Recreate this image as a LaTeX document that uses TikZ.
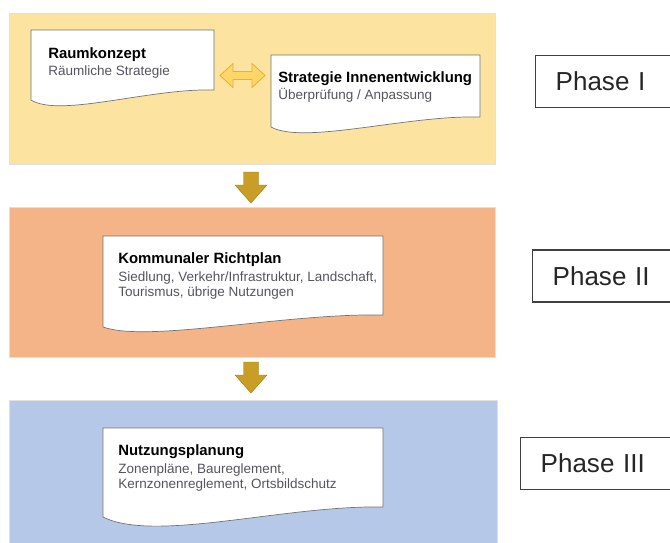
\documentclass[tikz,border=0pt]{standalone}
\usepackage{fontspec}
\setmainfont{Liberation Sans}

\definecolor{bandyellow}{RGB}{252,228,160}
\definecolor{bandorange}{RGB}{245,180,135}
\definecolor{bandblue}{RGB}{182,200,232}
\definecolor{arrowgold}{RGB}{200,158,38}
\definecolor{swapyellow}{RGB}{253,214,102}
\definecolor{swapedge}{RGB}{228,178,60}
\definecolor{subgray}{RGB}{85,85,95}

\newcommand{\doctitle}[1]{{\fontsize{10.6}{12}\selectfont\bfseries\color{black}#1}}

\tikzset{
  band/.style={fill=#1, draw=black!12, line width=0.4pt},
  docpage/.style={fill=white, draw=black!55, line width=0.5pt},
  doctext/.style={anchor=north west, inner sep=0pt, align=left,
    font=\fontsize{9.6}{10.7}\selectfont, text=subgray},
  phasebox/.style={draw=black!75, line width=1pt, anchor=west, text width=3cm,
    inner xsep=0.5cm, minimum height=1.3cm,
    font=\fontsize{18.5}{21}\selectfont, text=black!85},
  phasearrow/.pic={
    \filldraw[fill=arrowgold, draw=arrowgold!80!black, line width=0.3pt]
      (-7.5,0) -- (7.5,0) -- (7.5,13) -- (16,13) -- (0,31)
      -- (-16,13) -- (-7.5,13) -- cycle;},
  swaparrow/.pic={
    \filldraw[fill=swapyellow, draw=swapedge, line width=0.6pt]
      (-22.5,0) -- (-9.5,-12) -- (-9.5,-4) -- (9.5,-4) -- (9.5,-12)
      -- (22.5,0) -- (9.5,12) -- (9.5,4) -- (-9.5,4) -- (-9.5,12) -- cycle;}
}

\begin{document}
\begin{tikzpicture}[x=0.025cm,y=-0.025cm]
\useasboundingbox (0,0) rectangle (670,542);
\fill[white] (0,0) rectangle (670,542);

% phase bands
\filldraw[band=bandyellow] (9,13) rectangle (495,164);
\filldraw[band=bandorange] (9,207) rectangle (495,357);
\filldraw[band=bandblue] (9,400) rectangle (497,548);

% document pages
\filldraw[docpage] (31,30) -- (214,30) -- (214,90)
  .. controls (150,88) and (60,118) .. (31,100) -- cycle;
\filldraw[docpage] (271,55) -- (480,55) -- (480,117)
  .. controls (407,115) and (304,145) .. (271,127) -- cycle;
\filldraw[docpage] (103,236) -- (383,236) -- (383,315)
  .. controls (285,313) and (148,343) .. (103,327) -- cycle;
\filldraw[docpage] (103,428) -- (383,428) -- (383,507)
  .. controls (285,505) and (155,543) .. (103,517) -- cycle;

% page texts
\node[doctext] (raum) at (48,47) {\doctitle{Raumkonzept}\\[2pt]
  Räumliche Strategie};
\node[doctext] (strat) at (278,71) {\doctitle{Strategie Innenentwicklung}\\[2pt]
  Überprüfung / Anpassung};
\node[doctext] (richt) at (118,252.5) {\doctitle{Kommunaler Richtplan}\\[2pt]
  Siedlung, Verkehr/Infrastruktur, Landschaft,\\
  Tourismus, übrige Nutzungen};
\node[doctext] (nutz) at (118,444.3) {\doctitle{Nutzungsplanung}\\[2pt]
  Zonenpläne, Baureglement,\\
  Kernzonenreglement, Ortsbildschutz};

% arrows
\pic at (242.5,75.5) {swaparrow};
\pic at (251,172) {phasearrow};
\pic at (251,362) {phasearrow};

% phase labels
\node[phasebox] (phaseI) at (535,81.5) {Phase I};
\node[phasebox] (phaseII) at (532,276) {Phase II};
\node[phasebox] (phaseIII) at (520,463.5) {Phase III};
\end{tikzpicture}
\end{document}
